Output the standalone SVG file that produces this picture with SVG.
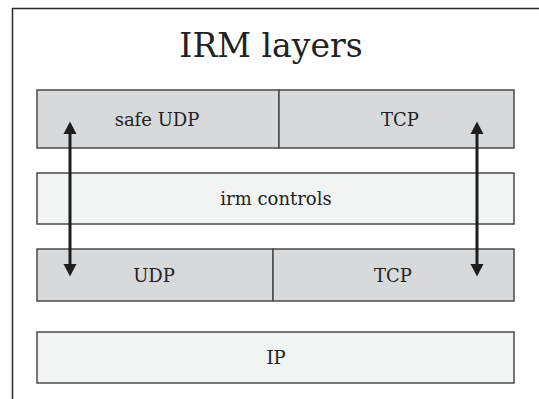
<svg xmlns="http://www.w3.org/2000/svg" width="539" height="399" viewBox="0 0 539 399">
<style>
.dark{fill:#d8d9da;stroke:#4a4a4a;stroke-width:1.5}
.light{fill:#f2f3f3;stroke:#4a4a4a;stroke-width:1.5}
text{font-family:"DejaVu Serif","Liberation Serif",serif;fill:#222;text-anchor:middle}
.lbl{font-size:18px}
.arr{stroke:#1e1e1e;stroke-width:3;fill:none;marker-start:url(#ah);marker-end:url(#ah)}
</style>
<defs>
<marker id="ah" markerUnits="userSpaceOnUse" markerWidth="13" markerHeight="14" refX="0" refY="7" orient="auto-start-reverse" viewBox="0 0 13 14">
<path d="M0,0.5 L12.5,7 L0,13.5 z" fill="#1e1e1e"/>
</marker>
</defs>
<path d="M12.5,399 V8.5 H539" fill="none" stroke="#2a2a2a" stroke-width="1.5"/>
<text x="271" y="57" font-size="33">IRM layers</text>
<g id="safeudp">
<rect class="dark" x="37" y="90" width="242" height="58"/>
<text class="lbl" x="157" y="126">safe UDP</text>
</g>
<g id="tcp-top">
<rect class="dark" x="279" y="90" width="235" height="58"/>
<text class="lbl" x="400" y="126">TCP</text>
</g>
<g id="irm">
<rect class="light" x="37" y="173" width="477" height="51"/>
<text class="lbl" x="276" y="205">irm controls</text>
</g>
<g id="udp">
<rect class="dark" x="37" y="249" width="236" height="52"/>
<text class="lbl" x="154" y="282">UDP</text>
</g>
<g id="tcp-bottom">
<rect class="dark" x="273" y="249" width="241" height="52"/>
<text class="lbl" x="393" y="282">TCP</text>
</g>
<g id="ip">
<rect class="light" x="37" y="332" width="477" height="51"/>
<text class="lbl" x="276" y="364">IP</text>
</g>
<g id="connectors">
<line class="arr" x1="70" y1="134" x2="70" y2="264"/>
<line class="arr" x1="477" y1="134" x2="477" y2="264"/>
</g>
</svg>
